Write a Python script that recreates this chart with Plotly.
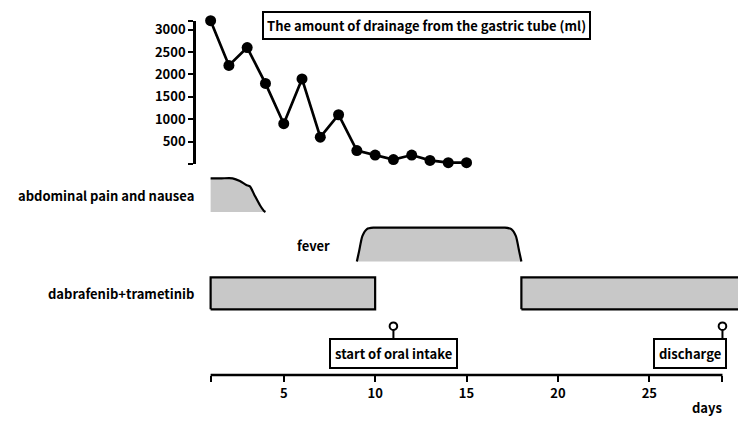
import plotly.graph_objects as go

# ---------------- data ----------------
drain_days = list(range(1, 16))
drain_ml = [3200, 2200, 2600, 1800, 900, 1900, 600, 1100, 300, 200, 100, 200, 80, 30, 30]

pain_days = [1, 1.6, 2.2, 2.6, 2.95, 3.15, 3.4, 3.7, 3.92, 4.0]
pain_level = [1, 1, 1, 0.92, 0.8, 0.76, 0.5, 0.2, 0.03, 0]

fever_days = [9.0, 9.12, 9.3, 9.55, 9.9, 10.5, 13.5, 16.5, 17.1, 17.45, 17.7, 17.88, 18.0]
fever_level = [0, 0.3, 0.75, 0.96, 1, 1, 1, 1, 1, 0.96, 0.75, 0.3, 0]

drug_periods = [(1, 10), (18, 31)]

events = [("start of oral intake", 11), ("discharge", 29)]

x_ticks = [1, 5, 10, 15, 20, 25, 29]
x_ticktext = ["", "5", "10", "15", "20", "25", ""]
y_ticks = [0, 500, 1000, 1500, 2000, 2500, 3000, 3200]
y_ticktext = ["", "500", "1000", "1500", "2000", "2500", "3000", ""]

# ---------------- layout helpers ----------------
W, H = 750, 422
ML, MR = 196, 12
FONT = "Noto Sans CJK JP"
GRAY = "#c8c8c8"


def pf(py):
    return 1 - py / H


def dom(top, bot):
    return [pf(bot), pf(top)]


def rng(p0, p1, top, bot):
    v = lambda p: (p0 - p) / (p0 - p1)
    return [v(bot), v(top)]


def fnt(size=13):
    return dict(size=size, family=FONT, weight="bold", color="black")


fig = go.Figure()

# drainage
fig.add_trace(go.Scatter(x=drain_days, y=drain_ml, mode="lines+markers",
                         line=dict(color="black", width=2.7),
                         marker=dict(color="black", size=11),
                         cliponaxis=False, xaxis="x", yaxis="y"))

# abdominal pain
fig.add_trace(go.Scatter(x=pain_days, y=pain_level, mode="lines", fill="tozeroy",
                         fillcolor=GRAY, line=dict(color="black", width=2.2, shape="spline", smoothing=0.6),
                         xaxis="x", yaxis="y2"))
# fever
fig.add_trace(go.Scatter(x=fever_days, y=fever_level, mode="lines", fill="tozeroy",
                         fillcolor=GRAY, line=dict(color="black", width=2.2, shape="spline", smoothing=0.6),
                         xaxis="x", yaxis="y3"))
# drug bars
for s, e in drug_periods:
    fig.add_trace(go.Scatter(x=[s, s, e, e, s], y=[0, 1, 1, 0, 0], mode="lines", fill="toself",
                             fillcolor=GRAY, line=dict(color="black", width=2.2),
                             xaxis="x", yaxis="y4"))

hidden = dict(visible=False, fixedrange=True)
fig.update_layout(
    width=W, height=H,
    margin=dict(l=ML, r=MR, t=0, b=0, autoexpand=False),
    paper_bgcolor="white", plot_bgcolor="rgba(0,0,0,0)",
    showlegend=False,
    font=fnt(),
    xaxis=dict(range=[0.2, 29.85], anchor="free", position=pf(375), showline=False, automargin=False,
               showgrid=False, zeroline=False, ticks="outside", ticklen=6, tickwidth=2,
               tickcolor="black", tickvals=x_ticks, ticktext=x_ticktext, tickfont=fnt()),
    yaxis=dict(domain=dom(20.7, 164), range=[0, 3200], anchor="x", showline=True, linewidth=2.5,
               linecolor="black", showgrid=False, zeroline=False, ticks="outside", automargin=False,
               ticklen=5, tickwidth=2, tickcolor="black", tickvals=y_ticks, ticktext=y_ticktext,
               tickfont=fnt()),
    yaxis2=dict(domain=dom(172, 216), range=rng(212, 178.3, 172, 216), anchor="x", **hidden),
    yaxis3=dict(domain=dom(220, 268), range=rng(261.5, 227.7, 220, 268), anchor="x", **hidden),
    yaxis4=dict(domain=dom(270, 316), range=rng(309.3, 277.3, 270, 316), anchor="x", **hidden),
)

# x axis line from day 1 to 29
fig.add_shape(type="line", xref="x", yref="paper", x0=x_ticks[0], x1=x_ticks[-1],
              y0=pf(375), y1=pf(375), line=dict(color="black", width=2.5))

# events: pins and boxes
px_per_day = (W - ML - MR) / (29.85 - 0.2)
for label, day in events:
    fig.add_shape(type="line", xref="x", yref="paper", x0=day, x1=day, y0=pf(330), y1=pf(338),
                  line=dict(color="black", width=2))
    r = 3.8 / px_per_day
    fig.add_shape(type="circle", xref="x", yref="paper", x0=day - r, x1=day + r,
                  y0=pf(330), y1=pf(322.4), fillcolor="white", line=dict(color="black", width=2))
    last = day == events[-1][1]
    fig.add_annotation(x=day, y=pf(353), xref="x", yref="paper", text=label, showarrow=False,
                       xanchor="right" if last else "center", yanchor="middle",
                       xshift=5 if last else 0, bordercolor="black", borderwidth=2, borderpad=4,
                       bgcolor="white", font=fnt(13))

# title box
fig.add_annotation(x=(426 - ML) / (W - ML - MR), y=pf(25), xref="paper", yref="paper",
                   xanchor="center", yanchor="middle",
                   text="The amount of drainage from the gastric tube (ml)", showarrow=False,
                   bordercolor="black", borderwidth=2, borderpad=3, bgcolor="white", font=fnt(13))

# row labels
fig.add_annotation(x=0, y=pf(195), xref="paper", yref="paper", text="abdominal pain and nausea",
                   showarrow=False, xanchor="right", yanchor="middle", font=fnt())
fig.add_annotation(x=7.65, y=pf(245), xref="x", yref="paper", text="fever",
                   showarrow=False, xanchor="right", yanchor="middle", font=fnt())
fig.add_annotation(x=0, y=pf(293), xref="paper", yref="paper", text="dabrafenib+trametinib",
                   showarrow=False, xanchor="right", yanchor="middle", font=fnt())

# axis title
fig.add_annotation(x=(707 - ML) / (W - ML - MR), y=pf(407), xref="paper", yref="paper", text="days",
                   showarrow=False, xanchor="center", yanchor="middle", font=fnt())

fig.write_html("out.html")
